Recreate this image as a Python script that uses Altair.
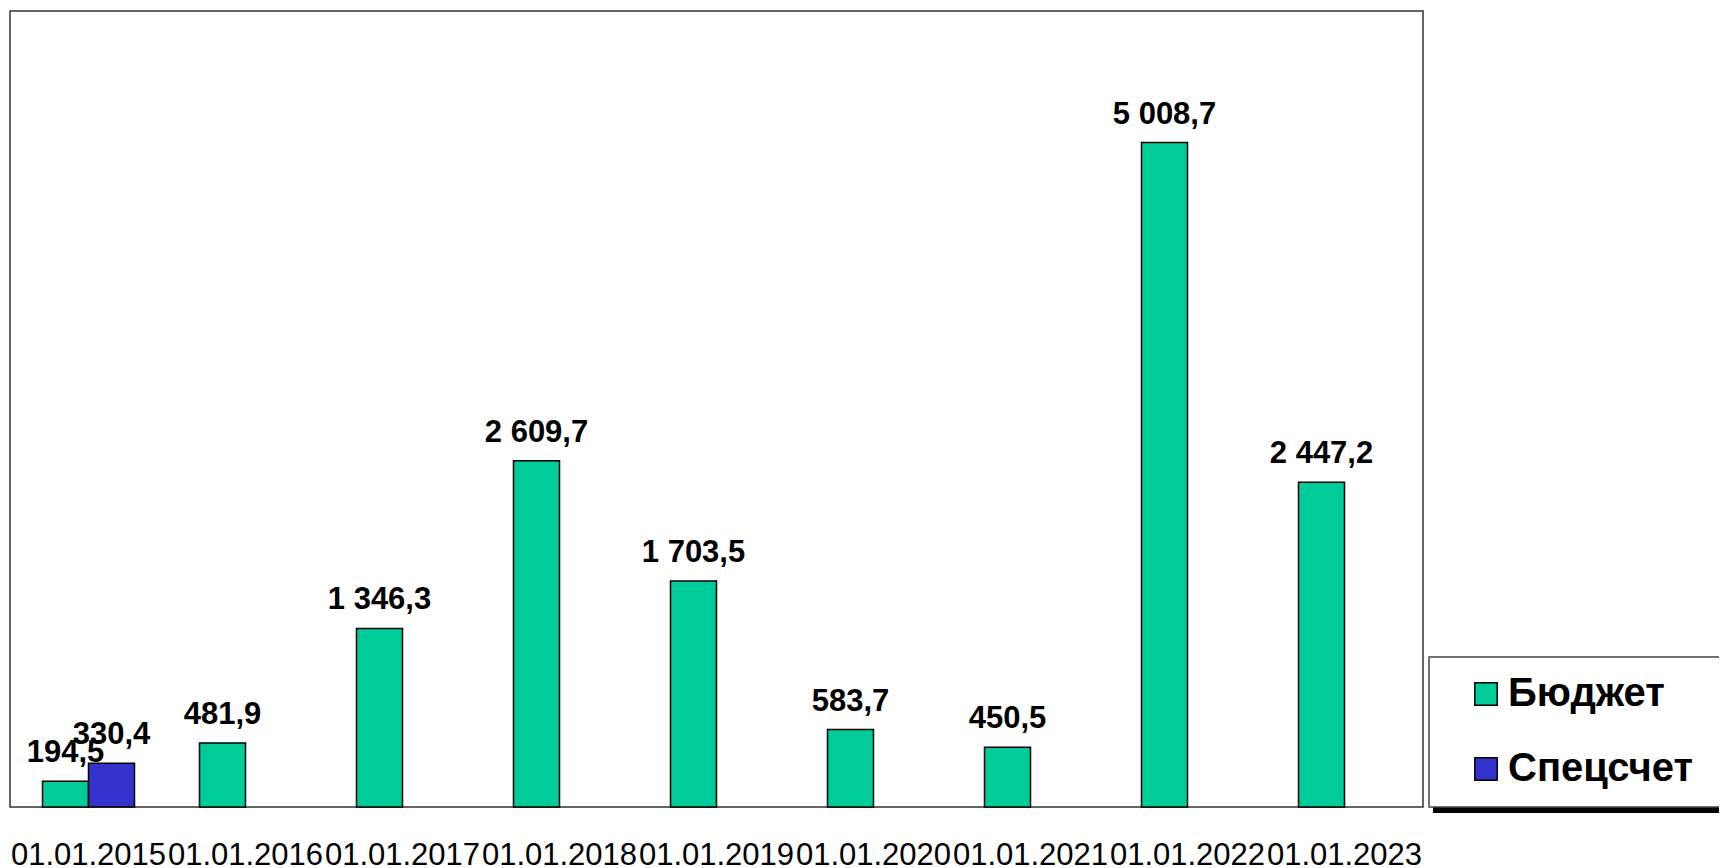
import altair as alt
import pandas as pd

categories = ["01.01.2015", "01.01.2016", "01.01.2017", "01.01.2018", "01.01.2019",
              "01.01.2020", "01.01.2021", "01.01.2022", "01.01.2023"]
budget = [194.5, 481.9, 1346.3, 2609.7, 1703.5, 583.7, 450.5, 5008.7, 2447.2]
spec_categories = ["01.01.2015"]
spec = [330.4]
series = ["Бюджет", "Спецсчет"]
colors = ["#00CC99", "#3333CC"]

rows = []
for c, v in zip(categories, budget):
    rows.append({"date": c, "series": series[0], "value": v})
for c, v in zip(spec_categories, spec):
    rows.append({"date": c, "series": series[1], "value": v})
df = pd.DataFrame(rows)
df["label"] = df["value"].map(lambda v: f"{v:,.1f}".replace(",", " ").replace(".", ","))

FONT = "Liberation Sans"
W, H = 1413, 796

x = alt.X("date:N", sort=categories,
          scale=alt.Scale(paddingInner=0.414, paddingOuter=0.207),
          axis=alt.Axis(title=None, labelAngle=0, ticks=False, tickSize=0, domain=False,
                        labelPadding=33, labelFontSize=31, labelFont=FONT,
                        labelColor="black", labelOverlap=False, labelBound=False,
                        labelLimit=0, grid=False))
xo = alt.XOffset("series:N", sort=series,
                 scale=alt.Scale(domain=series, paddingInner=0, paddingOuter=0))
y = alt.Y("value:Q", scale=alt.Scale(domain=[0, 6000], nice=False, zero=True), axis=None)

base = alt.Chart(df)

# legend frame and its shadow (decoration)
deco = pd.DataFrame({"k": [0]})
shadow = alt.Chart(deco).mark_rect(color="black").encode(
    x=alt.value(1423), x2=alt.value(1720), y=alt.value(796), y2=alt.value(802))
frame = alt.Chart(deco).mark_rect(fill="white", stroke="#444444", strokeWidth=1.5).encode(
    x=alt.value(1419), x2=alt.value(1725), y=alt.value(646), y2=alt.value(796))

bars = base.mark_bar(stroke="black", strokeWidth=1.5).encode(
    x=x, xOffset=xo, y=y,
    color=alt.Color("series:N", sort=series,
                    scale=alt.Scale(domain=series, range=colors),
                    legend=alt.Legend(title=None, orient="none", legendX=1419, legendY=646,
                                      padding=17, rowPadding=35, symbolOffset=20,
                                      symbolType="square", symbolSize=500,
                                      symbolStrokeColor="black", symbolStrokeWidth=1.5,
                                      labelFontSize=40, labelFontWeight="bold",
                                      labelFont=FONT, labelColor="black",
                                      labelOffset=2, labelLimit=0, direction="vertical")),
)

labels = base.mark_text(fontSize=31, fontWeight="bold", font=FONT, color="black",
                        baseline="alphabetic", dy=-19).encode(
    x=x, xOffset=xo, y=y, text="label:N")

chart = alt.layer(shadow, frame, bars, labels).properties(
    width=W, height=H,
    autosize=alt.AutoSizeParams(type="none"),
    padding={"left": 2, "top": 3, "right": 296, "bottom": 60},
).configure(font=FONT, background="white",
            view=alt.ViewConfig(stroke="#333333", strokeWidth=1.5))

chart.save("out.html", embed_options={"renderer": "svg", "actions": False})
